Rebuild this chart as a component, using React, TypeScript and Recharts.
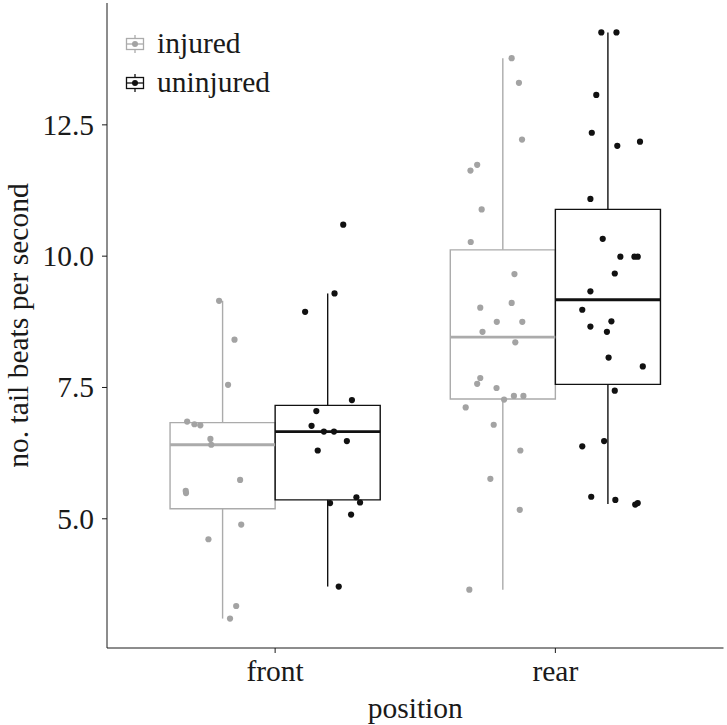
import {
  ComposedChart,
  Scatter,
  XAxis,
  YAxis,
  ReferenceArea,
  ReferenceLine,
} from 'recharts'

// jittered observations, x in category units (front = 1, rear = 2)
const frontInjuredX = [0.8, 0.855, 0.832, 0.686, 0.712, 0.733, 0.769, 0.772, 0.875, 0.681, 0.682, 0.879, 0.762, 0.861, 0.839]
const frontInjuredY = [9.15, 8.41, 7.55, 6.85, 6.8, 6.78, 6.52, 6.41, 5.74, 5.53, 5.49, 4.89, 4.61, 3.34, 3.1]

const frontUninjuredX = [1.212, 1.107, 1.243, 1.274, 1.147, 1.13, 1.174, 1.21, 1.256, 1.152, 1.29, 1.196, 1.303, 1.271, 1.227]
const frontUninjuredY = [9.29, 8.94, 10.6, 7.26, 7.05, 6.77, 6.66, 6.66, 6.48, 6.3, 5.41, 5.3, 5.31, 5.08, 3.71]

const rearInjuredX = [
  1.844, 1.87, 1.881, 1.721, 1.697, 1.737, 1.698, 1.854, 1.844, 1.732, 1.791, 1.882, 1.74,
  1.857, 1.732, 1.721, 1.79, 1.852, 1.886, 1.817, 1.68, 1.78, 1.875, 1.768, 1.873, 1.693,
]
const rearInjuredY = [
  13.77, 13.3, 12.22, 11.74, 11.63, 10.89, 10.27, 9.66, 9.11, 9.02, 8.75, 8.75, 8.56,
  8.36, 7.68, 7.57, 7.49, 7.34, 7.34, 7.27, 7.12, 6.79, 6.3, 5.76, 5.17, 3.65,
]

const rearUninjuredX = [
  2.164, 2.218, 2.146, 2.13, 2.221, 2.302, 2.125, 2.169, 2.232, 2.282, 2.294, 2.212, 2.125,
  2.096, 2.125, 2.2, 2.184, 2.19, 2.312, 2.212, 2.174, 2.096, 2.128, 2.214, 2.285, 2.294,
]
const rearUninjuredY = [
  14.26, 14.26, 13.07, 12.35, 12.1, 12.18, 11.09, 10.33, 9.99, 9.99, 9.99, 9.67, 9.33,
  8.98, 8.66, 8.76, 8.56, 8.07, 7.9, 7.44, 6.48, 6.38, 5.42, 5.36, 5.27, 5.3,
]

// box summaries: [lower whisker, q1, median, q3, upper whisker]
const boxCenters = [0.8125, 1.1875, 1.8125, 2.1875]
const boxStats = [
  [3.1, 5.19, 6.41, 6.83, 9.15],
  [3.71, 5.36, 6.66, 7.16, 9.29],
  [3.65, 7.28, 8.46, 10.12, 13.77],
  [5.28, 7.56, 9.17, 10.89, 14.26],
]
const boxGroup = ['injured', 'uninjured', 'injured', 'uninjured']

const categories = ['front', 'rear']
const yTicks = [5, 7.5, 10, 12.5]
const groups = ['injured', 'uninjured']

const BOX_HALF = 0.1875
const FONT = '"Liberation Serif", "DejaVu Serif", serif'
const FS = 29.5
const GREY_PT = '#a3a3a3'
const GREY_LINE = '#ababab'
const BLACK = '#111111'

const toPoints = (xs: number[], ys: number[]) => xs.map((x, i) => ({ x, y: ys[i] }))

const injuredPts = [...toPoints(frontInjuredX, frontInjuredY), ...toPoints(rearInjuredX, rearInjuredY)]
const uninjuredPts = [...toPoints(frontUninjuredX, frontUninjuredY), ...toPoints(rearUninjuredX, rearUninjuredY)]

const dot = (fill: string) => (p: any) => <circle cx={p.cx} cy={p.cy} r={3.1} fill={fill} />

function XTick(p: any) {
  const label = categories[Math.round(p.payload.value) - 1]
  return (
    <text x={p.x} y={p.y + 26} textAnchor="middle" fontFamily={FONT} fontSize={FS} fill="#1a1a1a">
      {label}
    </text>
  )
}

function YTick(p: any) {
  return (
    <text x={p.x - 6} y={p.y + 10} textAnchor="end" fontFamily={FONT} fontSize={FS} fill="#1a1a1a">
      {p.payload.value.toFixed(1)}
    </text>
  )
}

function LegendKey({ color, pt }: { color: string; pt: string }) {
  return (
    <svg width={22} height={20} style={{ display: 'block' }}>
      <line x1={11} x2={11} y1={1} y2={19} stroke={color} strokeWidth={1.3} />
      <rect x={2.5} y={4.5} width={17} height={11} fill="#fff" stroke={color} strokeWidth={1.3} />
      <line x1={2.5} x2={19.5} y1={10} y2={10} stroke={color} strokeWidth={1.3} />
      <circle cx={11} cy={10} r={3} fill={pt} />
    </svg>
  )
}

export default function App() {
  return (
    <div style={{ position: 'absolute', left: 0, top: 0, width: 727, height: 725, background: '#fff' }}>
      <ComposedChart width={727} height={725} margin={{ top: 3, right: 3.5, left: 0, bottom: 0 }}>
        <XAxis
          dataKey="x"
          type="number"
          domain={[0.4, 2.6]}
          ticks={[1, 2]}
          allowDataOverflow
          height={77}
          tickSize={5}
          tick={<XTick />}
          stroke="#1a1a1a"
          tickLine={{ stroke: '#1a1a1a' }}
          label={{
            value: 'position',
            position: 'insideBottom',
            offset: 7,
            style: { fontFamily: FONT, fontSize: FS, fill: '#1a1a1a' },
          }}
        />
        <YAxis
          dataKey="y"
          type="number"
          domain={[2.54, 14.82]}
          ticks={yTicks}
          allowDataOverflow
          width={107}
          tickSize={5}
          tick={<YTick />}
          stroke="#1a1a1a"
          tickLine={{ stroke: '#1a1a1a' }}
          label={{
            value: 'no. tail beats per second',
            angle: -90,
            position: 'insideLeft',
            offset: 0,
            content: (props: any) => {
              const vb = props.viewBox || { y: 3, height: 645 }
              const cy = vb.y + vb.height / 2
              return (
                <text
                  transform={`translate(28, ${cy}) rotate(-90)`}
                  textAnchor="middle"
                  fontFamily={FONT}
                  fontSize={FS}
                  fill="#1a1a1a"
                >
                  no. tail beats per second
                </text>
              )
            },
          }}
        />

        {boxStats.map((s, i) => {
          const c = boxCenters[i]
          const col = boxGroup[i] === 'injured' ? GREY_LINE : BLACK
          return [
            <ReferenceLine
              key={`wl${i}`}
              segment={[{ x: c, y: s[0] }, { x: c, y: s[1] }]}
              stroke={col}
              strokeWidth={1.4}
            />,
            <ReferenceLine
              key={`wu${i}`}
              segment={[{ x: c, y: s[3] }, { x: c, y: s[4] }]}
              stroke={col}
              strokeWidth={1.4}
            />,
            <ReferenceArea
              key={`b${i}`}
              x1={c - BOX_HALF}
              x2={c + BOX_HALF}
              y1={s[1]}
              y2={s[3]}
              fill="none"
              fillOpacity={0}
              stroke={col}
              strokeWidth={1.4}
            />,
            <ReferenceLine
              key={`m${i}`}
              segment={[{ x: c - BOX_HALF, y: s[2] }, { x: c + BOX_HALF, y: s[2] }]}
              stroke={col}
              strokeWidth={2.8}
            />,
          ]
        })}

        <Scatter data={injuredPts} shape={dot(GREY_PT)} isAnimationActive={false} />
        <Scatter data={uninjuredPts} shape={dot(BLACK)} isAnimationActive={false} />
      </ComposedChart>

      {/* legend */}
      <div style={{ position: 'absolute', left: 124, top: 24, fontFamily: FONT, fontSize: FS, color: '#1a1a1a' }}>
        {groups.map((g, i) => (
          <div key={g} style={{ display: 'flex', alignItems: 'center', height: 39, lineHeight: '39px' }}>
            <LegendKey color={i === 0 ? GREY_LINE : BLACK} pt={i === 0 ? GREY_PT : BLACK} />
            <span style={{ marginLeft: 11 }}>{g}</span>
          </div>
        ))}
      </div>
    </div>
  )
}
